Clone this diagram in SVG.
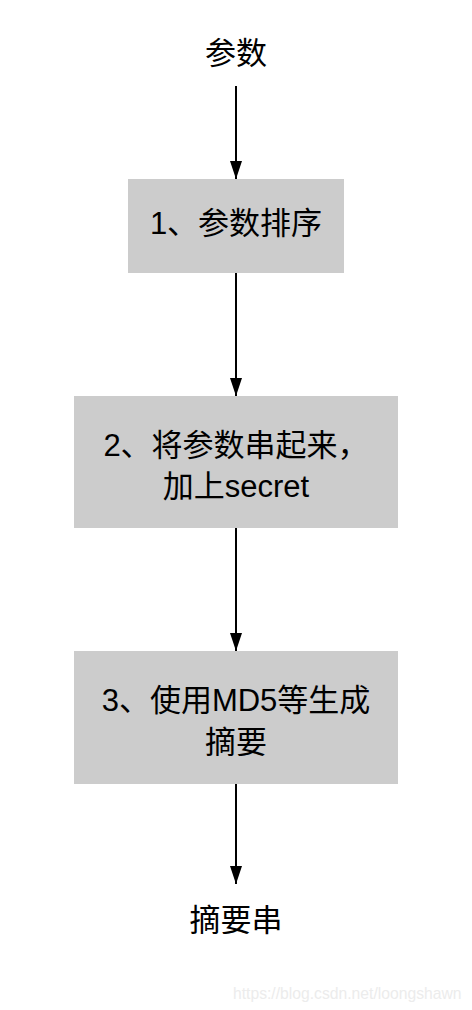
<svg xmlns="http://www.w3.org/2000/svg" width="472" height="1010" viewBox="0 0 472 1010">
<style>
.t{font-family:"Liberation Sans","Noto Sans CJK SC",sans-serif;font-size:31px;fill:#000;text-anchor:middle}
.box{fill:#cccccc;stroke:none}
.ln{stroke:#000;stroke-width:2;fill:none;marker-end:url(#ah)}
.wm{font-family:"Liberation Sans",sans-serif;font-size:15.7px;fill:#ececec}
</style>
<defs>
<marker id="ah" markerWidth="18" markerHeight="12" refX="18" refY="6" orient="auto" markerUnits="userSpaceOnUse" viewBox="0 0 18 12">
<path d="M0,0 L18,6 L0,12 Z" fill="#000"/>
</marker>
</defs>
<rect width="472" height="1010" fill="#fff"/>
<g id="connectors">
<line class="ln" x1="236" y1="86" x2="236" y2="179"/>
<line class="ln" x1="236" y1="273" x2="236" y2="396"/>
<line class="ln" x1="236" y1="528" x2="236" y2="651"/>
<line class="ln" x1="236" y1="784" x2="236" y2="884"/>
</g>
<g id="n0"><text class="t" x="236" y="64">参数</text></g>
<g id="n1"><rect class="box" x="128" y="179" width="216" height="94"/><text class="t" x="236" y="234">1、参数排序</text></g>
<g id="n2"><rect class="box" x="74" y="396" width="324" height="132"/><text class="t" x="236" y="456">2、将参数串起来，</text><text class="t" x="236" y="497">加上secret</text></g>
<g id="n3"><rect class="box" x="74" y="651" width="324" height="133"/><text class="t" x="236" y="711">3、使用MD5等生成</text><text class="t" x="236" y="753">摘要</text></g>
<g id="n4"><text class="t" x="236" y="931">摘要串</text></g>
<text class="wm" x="233" y="999">https://blog.csdn.net/loongshawn</text>
</svg>
